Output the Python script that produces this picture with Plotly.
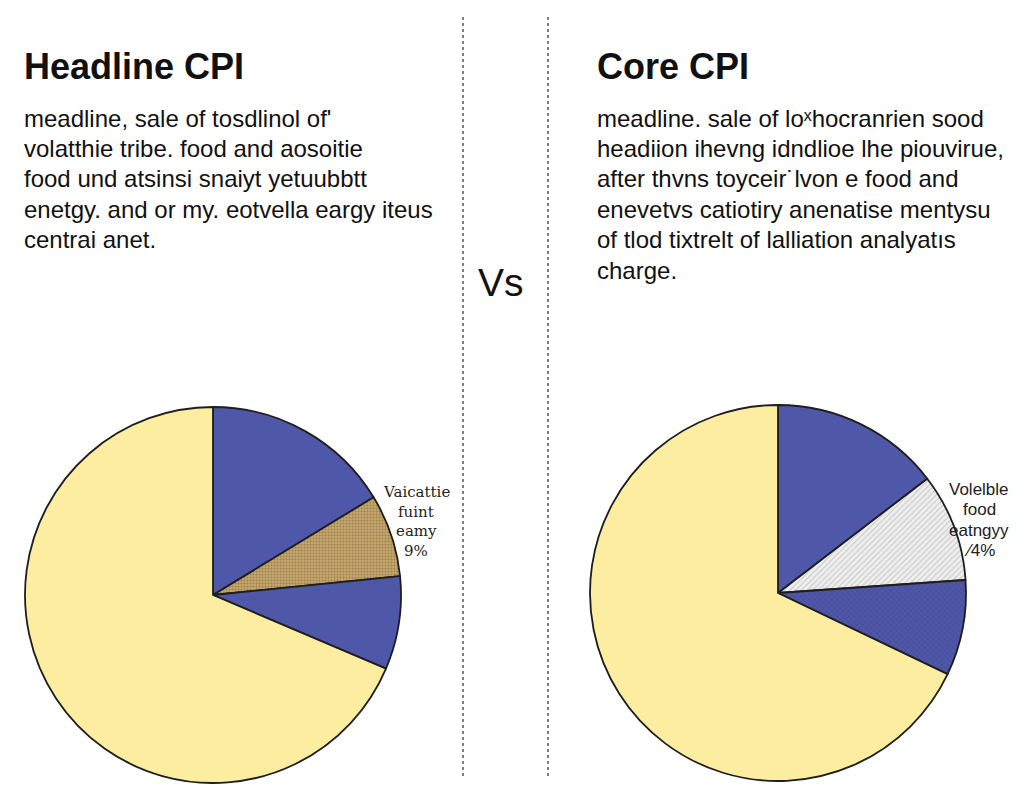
import plotly.graph_objects as go

# ---- data ----
slice_labels = ["Other core", "Volatile food energy", "Other core 2", "Core goods & services"]
headline_values = [16.3, 7.1, 8.0, 68.6]
core_values = [14.6, 9.3, 8.2, 67.9]

headline_title = "Headline CPI"
core_title = "Core CPI"
headline_text = [
    "meadline, sale of tosdlinol of'",
    "volatthie tribe. food and aosoitie",
    "food und atsinsi snaiyt yetuubbtt",
    "enetgy. and or my. eotvella eargy iteus",
    "centrai anet.",
]
core_text = [
    "meadline. sale of lo\u02e3hocranrien sood",
    "headiion ihevng idndlioe lhe piouvirue,",
    "after thvns toyceir\u02d9lvon e food and",
    "enevetvs catiotiry anenatise mentysu",
    "of tlod tixtrelt of lalliation analyatıs",
    "charge.",
]
headline_label = ["Vaicattie", "fuint", "eamy", "9%"]
core_label = ["Volelble", "food", "eatngyy", "\u20444%"]
vs_text = "Vs"

W, H = 1024, 790
BLUE = "#4f58a8"
YELLOW = "#fdeda1"
TAN = "#c6a76c"
LIGHT = "#efefef"


def px(x):
    return x / W


def py(y):
    return 1 - y / H


fig = go.Figure()

fig.add_trace(go.Pie(
    labels=slice_labels,
    values=headline_values,
    sort=False,
    direction="clockwise",
    rotation=0,
    textinfo="none",
    hoverinfo="label+percent",
    domain=dict(x=[px(25), px(401)], y=[py(783), py(407)]),
    marker=dict(
        colors=[BLUE, TAN, BLUE, YELLOW],
        line=dict(color="#1e1e1e", width=1.8),
        pattern=dict(shape=["", ".", "", ""],
                     fgcolor=["#000", "#6e5630", "#000", "#000"],
                     size=3, solidity=0.35, fillmode="overlay"),
    ),
    showlegend=False,
))

fig.add_trace(go.Pie(
    labels=slice_labels,
    values=core_values,
    sort=False,
    direction="clockwise",
    rotation=0,
    textinfo="none",
    hoverinfo="label+percent",
    domain=dict(x=[px(590), px(966)], y=[py(781), py(405)]),
    marker=dict(
        colors=[BLUE, LIGHT, BLUE, YELLOW],
        line=dict(color="#1e1e1e", width=1.8),
        pattern=dict(shape=["", "/", "x", ""],
                     fgcolor=["#000", "#9a9a9a", "#2f3680", "#000"],
                     size=4, solidity=0.25, fillmode="overlay"),
    ),
    showlegend=False,
))

ann = []
sans = "Liberation Sans, Arial, sans-serif"

ann.append(dict(x=px(22), y=py(66), text="<b>" + headline_title + "</b>", xanchor="left", yanchor="middle",
                font=dict(family=sans, size=36, color="#111"), showarrow=False,
                xref="paper", yref="paper"))
ann.append(dict(x=px(595), y=py(66), text="<b>" + core_title + "</b>", xanchor="left", yanchor="middle",
                font=dict(family=sans, size=36, color="#111"), showarrow=False,
                xref="paper", yref="paper"))

for i, line in enumerate(headline_text):
    ann.append(dict(x=px(22), y=py(118 + i * 30.4), text=line, xanchor="left", yanchor="middle",
                    font=dict(family=sans, size=24, color="#111"), showarrow=False,
                    xref="paper", yref="paper"))
for i, line in enumerate(core_text):
    ann.append(dict(x=px(595), y=py(118 + i * 30.4), text=line, xanchor="left", yanchor="middle",
                    font=dict(family=sans, size=24, color="#111"), showarrow=False,
                    xref="paper", yref="paper"))

ann.append(dict(x=px(501), y=py(282), text=vs_text, xanchor="center", yanchor="middle",
                font=dict(family=sans, size=39, color="#111"), showarrow=False,
                xref="paper", yref="paper"))

for i, line in enumerate(headline_label):
    ann.append(dict(x=px(416), y=py(492 + i * 19.5), text=line, xanchor="center", yanchor="middle",
                    font=dict(family="DejaVu Serif, serif", size=15, color="#222"), showarrow=False,
                    xref="paper", yref="paper"))
for i, line in enumerate(core_label):
    ann.append(dict(x=px(979), y=py(489 + i * 20.5), text=line, xanchor="center", yanchor="middle",
                    font=dict(family=sans, size=17, color="#222"), showarrow=False,
                    xref="paper", yref="paper"))

shapes = []
for xv in (463, 548):
    shapes.append(dict(type="line", xref="paper", yref="paper",
                       x0=px(xv), x1=px(xv), y0=py(776), y1=py(15),
                       line=dict(color="#555", width=1.5, dash="dot")))

fig.update_layout(
    width=W, height=H,
    margin=dict(l=0, r=0, t=0, b=0),
    paper_bgcolor="white",
    plot_bgcolor="white",
    annotations=ann,
    shapes=shapes,
)

fig.write_html("out.html", config={"displayModeBar": False},
               post_script="document.body.style.margin='0';")
